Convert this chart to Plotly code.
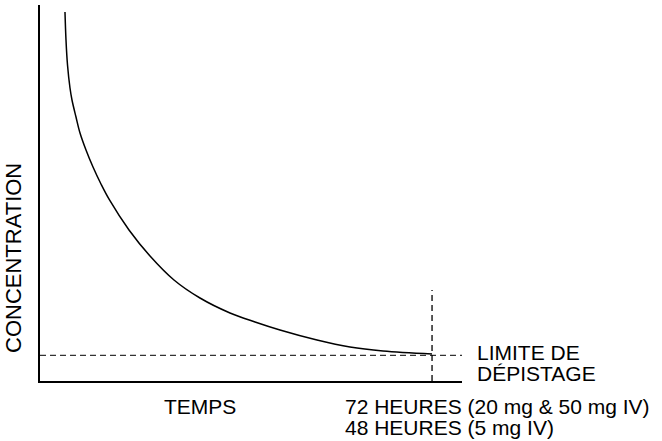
import plotly.graph_objects as go

# Curve (time vs concentration), arbitrary units (0-100 scales)
temps = [5.92, 6.16, 6.52, 7.11, 7.58, 8.53, 9.48, 10.90, 12.56, 14.45, 16.47, 21.09, 26.07,
         31.75, 37.91, 45.02, 50.95, 56.87, 65.64, 73.46, 81.28, 92.89]
concentration = [98.14, 90.69, 84.04, 77.93, 74.73, 70.21, 65.96, 61.44, 56.91, 52.39, 48.14, 40.16, 33.24,
                 26.86, 22.07, 18.09, 15.69, 13.56, 10.90, 9.04, 7.98, 7.18]

limite_y = 6.8           # detection limit level
limite_x = [0, 100]
heures_x = 92.9          # 72 h / 48 h time mark
heures_y = [0, 24.2]

W, H = 662, 441
L, R, T, B = 40, 200, 5, 60
pw, ph = W - L - R, H - T - B

def px(x):
    return (x - L) / pw

def py(y):
    return (H - B - y) / ph

FONT = "Liberation Sans, Arial, sans-serif"

fig = go.Figure()
fig.add_trace(go.Scatter(x=temps, y=concentration, mode="lines", line=dict(color="black", width=1.5, shape="spline", smoothing=1.0), hoverinfo="skip"))
fig.add_trace(go.Scatter(x=limite_x, y=[limite_y, limite_y], mode="lines", line=dict(color="#333333", width=1.3, dash="6px,4px"), hoverinfo="skip"))
fig.add_trace(go.Scatter(x=[heures_x, heures_x], y=heures_y, mode="lines", line=dict(color="black", width=1.3, dash="6px,4px"), hoverinfo="skip"))

ann = [
    ("LIMITE DE", 475, 352, 0, "left", 21),
    ("DÉPISTAGE", 475, 373.5, 0, "left", 21),
    ("72 HEURES (20 mg &amp; 50 mg IV)", 343, 407, 0, "left", 21),
    ("48 HEURES (5 mg IV)", 343, 427, 0, "left", 21),
    ("TEMPS", 200, 407, 0, "center", 21),
    ("CONCENTRATION", 13, 258, -90, "center", 22),
]
annotations = []
for txt, x, y, rot, xa, fs in ann:
    annotations.append(dict(text=txt, x=px(x), y=py(y), xref="paper", yref="paper", showarrow=False,
                            xanchor=xa, yanchor="middle", textangle=rot,
                            font=dict(family=FONT, size=fs, color="black")))

fig.update_layout(
    width=W, height=H, margin=dict(l=L, r=R, t=T, b=B),
    paper_bgcolor="white", plot_bgcolor="white", showlegend=False,
    xaxis=dict(range=[0, 100], showgrid=False, zeroline=False, showticklabels=False, ticks="",
               showline=True, linecolor="black", linewidth=1.5, mirror=False, fixedrange=True),
    yaxis=dict(range=[0, 100], showgrid=False, zeroline=False, showticklabels=False, ticks="",
               showline=True, linecolor="black", linewidth=1.5, mirror=False, fixedrange=True),
    annotations=annotations,
)
fig.write_html("out.html", config={"displayModeBar": False},
               post_script="document.body.style.margin='0px';document.body.style.overflow='hidden';")
